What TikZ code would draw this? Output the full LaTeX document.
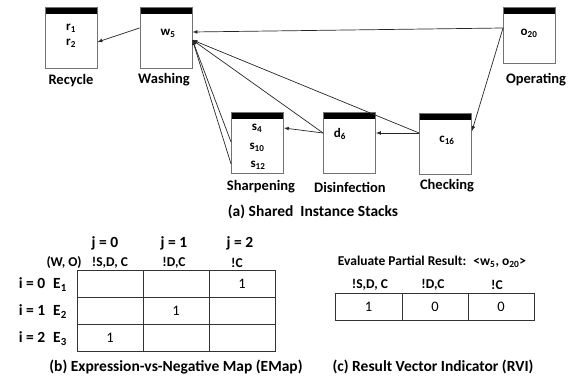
\documentclass[tikz,border=0pt]{standalone}
\usepackage{fontspec}
\setmainfont{Carlito}
\usetikzlibrary{positioning}
\usetikzlibrary{arrows.meta}
\tikzset{
    stack/.style = {rectangle, draw=black!55, line width=0.9pt, minimum width=52pt, minimum height=61pt, inner sep=0pt,
        path picture={\fill[black] (path picture bounding box.north west) rectangle ([yshift=-7pt]path picture bounding box.north east);}},
    item/.style = {inner sep=0pt, font=\bfseries\fontsize{13}{14}\selectfont},
    tag/.style = {inner sep=0pt, font=\bfseries\fontsize{14.5}{16}\selectfont},
    capt/.style = {inner sep=0pt, font=\bfseries\fontsize{15.5}{17}\selectfont},
    small/.style = {inner sep=0pt, font=\bfseries\fontsize{13.5}{15}\selectfont},
    cell/.style = {rectangle, draw=black!80, line width=0.8pt, minimum width=66pt, minimum height=27pt, inner sep=0pt, font=\fontsize{14.5}{16}\selectfont},
    edgen/.style = {-latex, line width=0.7pt, black!85},
}

\begin{document}
\begin{tikzpicture}[x=1pt,y=-1pt]
\useasboundingbox (0,0) rectangle (579,377);
% stacks
\node[stack] at (71.0, 37.5) (rec) {};
\node[stack] at (166.0, 37.5) (wash) {};
\node[stack, minimum height=56pt] at (529.5, 35.0) (oper) {};
\node[stack] at (257.5, 143.0) (sharp) {};
\node[stack] at (349.5, 143.0) (disin) {};
\node[stack] at (445.5, 143.5) (check) {};
%
\node[item] at (71, 28) (r1) {r\textsubscript{1}};
\node[item] at (71, 43) (r2) {r\textsubscript{2}};
\node[item] at (168, 33) (w5) {w\textsubscript{5}};
\node[item] at (529, 33) (o20) {o\textsubscript{20}};
\node[item] at (257, 128) (s4) {s\textsubscript{4}};
\node[item] at (257, 147) (s10) {s\textsubscript{10}};
\node[item] at (258, 165) (s12) {s\textsubscript{12}};
\node[item] at (340, 134) (d6) {d\textsubscript{6}};
\node[item] at (447, 140) (c16) {c\textsubscript{16}};
%
\node[tag] at (71, 81) (lrec) {Recycle};
\node[tag] at (164, 80) (lwash) {Washing};
\node[tag] at (536, 80) (loper) {Operating};
\node[tag] at (261, 187) (lsharp) {Sharpening};
\node[tag] at (350, 187) (ldisin) {Disinfection};
\node[tag] at (447, 186) (lcheck) {Checking};
\node[capt] at (313, 212) (capa) {(a) Shared~ Instance Stacks};
%
\draw[edgen] ([yshift=9.5pt]wash.west) -- ([yshift=-4.5pt]rec.east);
\draw[edgen] ([yshift=7pt]oper.west) -- ([yshift=5.5pt]wash.east);
\draw[edgen] ([yshift=7pt]oper.west) -- ([yshift=12.5pt]check.east);
\draw[edgen] ([yshift=10.5pt]check.west) -- ([yshift=10pt]disin.east);
\draw[edgen] ([yshift=10pt]disin.west) -- ([yshift=15pt]sharp.east);
\draw[edgen] ([yshift=10.5pt]check.west) -- ([yshift=-2.5pt]wash.east);
\draw[edgen] ([yshift=10pt]disin.west) -- ([yshift=-2.5pt]wash.east);
\draw[edgen] ([yshift=1pt]sharp.west) -- ([yshift=-2.5pt]wash.east);
\draw[edgen] ([yshift=-21pt]sharp.west) -- ([yshift=-2.5pt]wash.east);

% EMap
\foreach \i/\y in {0/283.5, 1/310.5, 2/337.5}{
  \foreach \j/\x in {0/110, 1/176, 2/242}{
    \node[cell] at (\x, \y) (e\i\j) {};
  }
}
\node at (e02) {\fontsize{14.5}{16}\selectfont 1};
\node at (e11) {\fontsize{14.5}{16}\selectfont 1};
\node at (e20) {\fontsize{14.5}{16}\selectfont 1};
\node[capt] at (105, 243) (j0) {j = 0};
\node[capt] at (174, 243) (j1) {j = 1};
\node[capt] at (240, 243) (j2) {j = 2};
\node[small] at (110, 263) (n0) {!S,D, C};
\node[small] at (174, 263) (n1) {!D,C};
\node[small] at (237, 263) (n2) {!C};
\node[small] at (64, 263) (wo) {(W, O)};
\node[capt] at (32, 283) (i0) {i = 0};
\node[capt] at (32, 310) (i1) {i = 1};
\node[capt] at (32, 337) (i2) {i = 2};
\node[capt] at (60, 285) (E1) {E\textsubscript{1}};
\node[capt] at (60, 312) (E2) {E\textsubscript{2}};
\node[capt] at (60, 339) (E3) {E\textsubscript{3}};
\node[capt] at (176, 367) (capb) {(b) Expression-vs-Negative Map (EMap)};

% RVI
\node[cell, minimum width=67pt] at (368.5, 306.5) (v0) {1};
\node[cell] at (435, 306.5) (v1) {0};
\node[cell] at (501, 306.5) (v2) {0};
\node[small] at (432, 262) (eval) {Evaluate Partial Result:~ <w\textsubscript{5}, o\textsubscript{20}>};
\node[small] at (370, 285) (m0) {!S,D, C};
\node[small] at (433, 285) (m1) {!D,C};
\node[small] at (497, 285) (m2) {!C};
\node[capt] at (433, 367) (capc) {(c) Result Vector Indicator (RVI)};
\end{tikzpicture}
\end{document}
